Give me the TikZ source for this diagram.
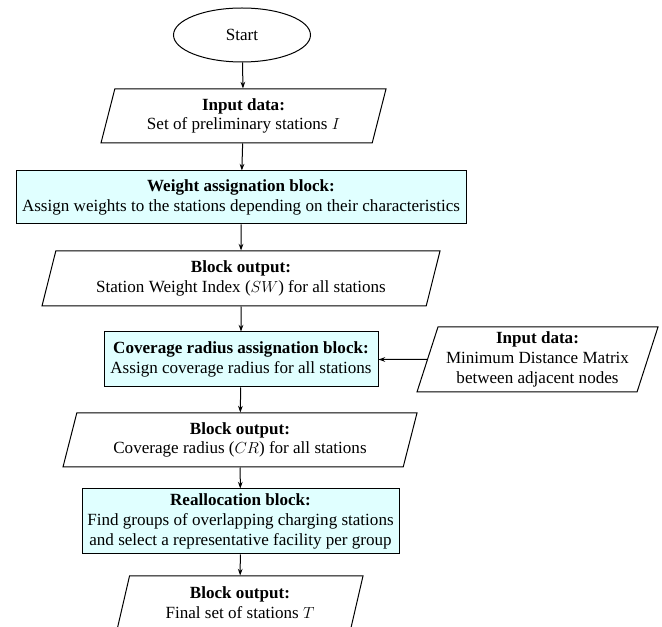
\documentclass[tikz,border=0pt]{standalone}
\usepackage{fontspec}
\setmainfont{Liberation Serif}
\usetikzlibrary{shapes.geometric,arrows.meta}

\tikzset{every picture/.style={line width=0.75pt}}
\tikzset{
  blockbox/.style={draw, fill={rgb, 255:red, 224; green, 255; blue, 255 }, align=center, inner sep=1pt},
  iobox/.style={draw, trapezium, trapezium left angle=70, trapezium right angle=110, trapezium stretches body, align=center, inner sep=1pt},
  flowarrow/.style={-{Stealth[length=5pt,width=3.5pt]}}
}

\begin{document}
\begin{tikzpicture}[x=0.75pt,y=0.75pt,yscale=-1,xscale=1,font=\fontsize{12.8}{14.8}\selectfont]
\useasboundingbox (0,0) rectangle (662,627);

%Shape: Ellipse [id:start]
\node [draw, ellipse, minimum width=102.75pt, minimum height=40.5pt] (start) at (242,35) {Start};
%Shape: Parallelogram [id:indata]
\node [iobox, minimum width=213.75pt, minimum height=40.5pt] (indata) at (243.5,116) {\textbf{Input data:}\\Set of preliminary stations $I$};
%Shape: Rectangle [id:weight]
\node [blockbox, minimum width=337.5pt, minimum height=39.75pt] (weight) at (241,197.5) {\textbf{Weight assignation block:}\\Assign weights to the stations depending on their characteristics};
%Shape: Parallelogram [id:swout]
\node [iobox, minimum width=298.5pt, minimum height=41.25pt] (swout) at (241,278.5) {\textbf{Block output:}\\Station Weight Index ($SW$) for all stations};
%Shape: Rectangle [id:coverage]
\node [blockbox, minimum width=205.5pt, minimum height=41.25pt] (coverage) at (241,359.5) {\textbf{Coverage radius assignation block:}\\Assign coverage radius for all stations};
%Shape: Parallelogram [id:matrix]
\node [iobox, minimum width=180.75pt, minimum height=48.75pt] (matrix) at (537.5,359.5) {\textbf{Input data:}\\Minimum Distance Matrix\\between adjacent nodes};
%Shape: Parallelogram [id:crout]
\node [iobox, minimum width=265.5pt, minimum height=40.5pt] (crout) at (240,440) {\textbf{Block output:}\\Coverage radius ($CR$) for all stations};
%Shape: Rectangle [id:realloc]
\node [blockbox, minimum width=237.75pt, minimum height=48.75pt] (realloc) at (240.5,521.5) {\textbf{Reallocation block:}\\Find groups of overlapping charging stations\\and select a representative facility per group};
%Shape: Parallelogram [id:final]
\node [iobox, minimum width=184.5pt, minimum height=40.5pt] (final) at (240,603) {\textbf{Block output:}\\Final set of stations $T$};

%Straight Lines
\draw [flowarrow] (start) -- (indata);
\draw [flowarrow] (indata) -- (weight);
\draw [flowarrow] (weight) -- (swout);
\draw [flowarrow] (swout) -- (coverage);
\draw [flowarrow] (matrix) -- (coverage);
\draw [flowarrow] (coverage) -- (crout);
\draw [flowarrow] (crout) -- (realloc);
\draw [flowarrow] (realloc) -- (final);

\end{tikzpicture}
\end{document}
